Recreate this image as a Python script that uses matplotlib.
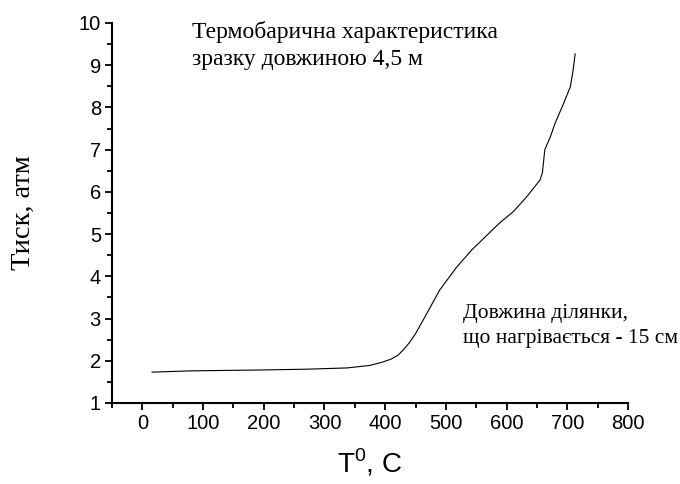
import numpy as np
import matplotlib.pyplot as plt
from matplotlib.ticker import MultipleLocator

# temperature (C) and pressure (atm)
temp = [16, 78, 188, 270, 337, 375, 396, 410, 421, 430, 440, 450, 469, 490,
        518, 543, 589, 611, 633, 655, 659, 663, 672, 680, 693, 705, 709, 713]
pressure = [1.73, 1.76, 1.78, 1.80, 1.83, 1.89, 1.97, 2.04, 2.13, 2.26, 2.43,
            2.64, 3.13, 3.68, 4.22, 4.63, 5.27, 5.53, 5.88, 6.28, 6.45, 7.0,
            7.3, 7.63, 8.06, 8.49, 8.82, 9.27]

title_lines = ["Термобарична характеристика", "зразку довжиною 4,5 м"]
note_lines = ["Довжина ділянки,", "що нагрівається - 15 см"]

plt.rcParams['mathtext.fontset'] = 'custom'
plt.rcParams['mathtext.rm'] = 'Liberation Sans'

fig = plt.figure(figsize=(6.8, 4.84), dpi=100)
ax = fig.add_axes([0.1647, 0.1674, 0.9235 - 0.1647, 0.9525 - 0.1674])
ax.plot(temp, pressure, color='black', lw=0.8)

ax.set_xlim(-50, 800)
ax.set_ylim(1, 10)
ax.xaxis.set_major_locator(MultipleLocator(100))
ax.xaxis.set_minor_locator(MultipleLocator(50))
ax.yaxis.set_major_locator(MultipleLocator(1))
ax.yaxis.set_minor_locator(MultipleLocator(0.5))
for s in ['top', 'right']:
    ax.spines[s].set_visible(False)
for s in ['left', 'bottom']:
    ax.spines[s].set_linewidth(1.5)
ax.tick_params(which='major', direction='out', length=5, width=1.3,
               labelsize=14.5, pad=3)
ax.tick_params(which='minor', direction='out', length=3.5, width=1.3)
for lab in ax.get_xticklabels() + ax.get_yticklabels():
    lab.set_family('Liberation Sans')

ax.set_xlabel(r'T$^{\mathregular{0}}$, C', fontsize=20, family='Liberation Sans',
              labelpad=10)
ax.set_ylabel('Тиск, атм', fontsize=20.5, family='Liberation Serif', labelpad=31)

ax.text(82, 9.65, title_lines[0], fontsize=17, family='Liberation Serif',
        va='baseline', ha='left')
ax.text(82, 9.01, title_lines[1], fontsize=17, family='Liberation Serif',
        va='baseline', ha='left')
ax.text(528, 3.01, note_lines[0], fontsize=15.5, family='Liberation Serif',
        va='baseline', ha='left')
ax.text(528, 2.42, note_lines[1], fontsize=15.5, family='Liberation Serif',
        va='baseline', ha='left')

fig.savefig('out.png', dpi=100)
